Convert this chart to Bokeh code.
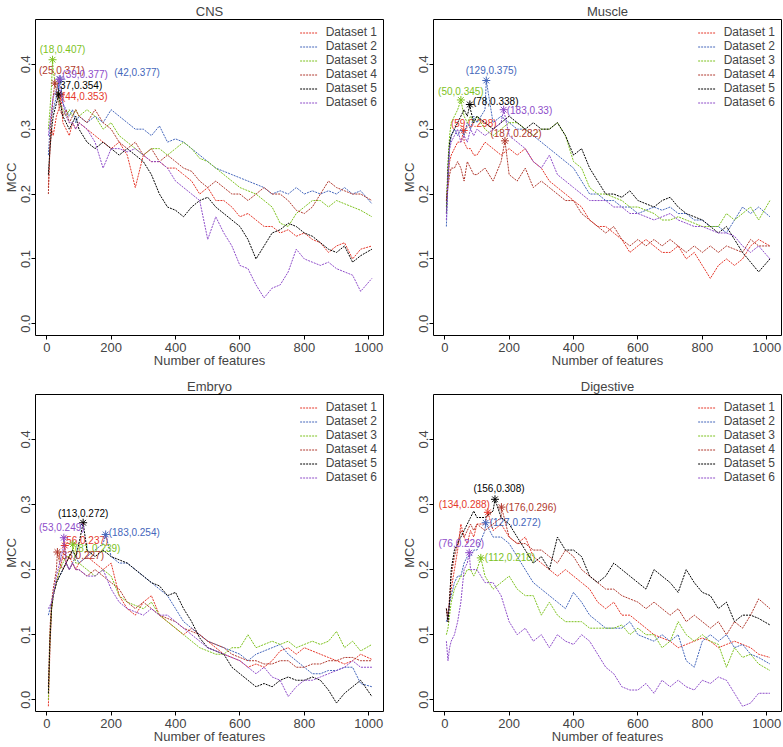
from bokeh.plotting import figure
from bokeh.layouts import row, column
from bokeh.models import Range1d, FixedTicker, NumeralTickFormatter
from bokeh.core.properties import value
from bokeh.embed import file_html
from bokeh.resources import INLINE

# ---------------- data ----------------
DATASETS = ["Dataset 1", "Dataset 2", "Dataset 3", "Dataset 4", "Dataset 5", "Dataset 6"]
PANELS = ["CNS", "Muscle", "Embryo", "Digestive"]
XTICKS = [0, 200, 400, 600, 800, 1000]
YTICKS = [0.0, 0.1, 0.2, 0.3, 0.4]

X_GRID = [5, 10, 15, 20, 30, 40, 50, 60, 70, 80, 90, 100,
          125, 150, 175, 200, 225, 250, 275, 300, 325, 350, 375, 400, 425, 450, 475, 500,
          525, 550, 575, 600, 625, 650, 675, 700, 725, 750, 775, 800, 825, 850, 875, 900,
          925, 950, 975, 1010]

# CNS
CNS_D1 = [0.21, 0.27, 0.30, 0.29, 0.32, 0.335, 0.31, 0.30, 0.29, 0.31, 0.30, 0.31,
          0.30, 0.29, 0.28, 0.27, 0.28, 0.26, 0.21, 0.26, 0.25, 0.25, 0.24, 0.24, 0.23, 0.22, 0.20, 0.21,
          0.19, 0.19, 0.18, 0.165, 0.17, 0.16, 0.15, 0.15, 0.14, 0.145, 0.135, 0.14, 0.13, 0.125, 0.11, 0.12,
          0.125, 0.10, 0.115, 0.12]
CNS_D2 = [0.26, 0.30, 0.32, 0.33, 0.35, 0.37, 0.34, 0.33, 0.32, 0.33, 0.31, 0.32,
          0.31, 0.32, 0.31, 0.33, 0.32, 0.31, 0.30, 0.30, 0.29, 0.305, 0.28, 0.285, 0.28, 0.27, 0.26, 0.25,
          0.24, 0.235, 0.23, 0.225, 0.22, 0.215, 0.21, 0.20, 0.205, 0.20, 0.21, 0.20, 0.205, 0.20, 0.205, 0.20,
          0.21, 0.20, 0.205, 0.185]
CNS_D3 = [0.30, 0.33, 0.37, 0.39, 0.36, 0.34, 0.33, 0.32, 0.33, 0.32, 0.33, 0.32,
          0.33, 0.32, 0.30, 0.31, 0.29, 0.28, 0.27, 0.26, 0.27, 0.27, 0.26, 0.27, 0.28, 0.27, 0.255, 0.25,
          0.24, 0.23, 0.22, 0.21, 0.205, 0.20, 0.19, 0.18, 0.155, 0.15, 0.17, 0.18, 0.19, 0.19, 0.18, 0.19,
          0.185, 0.18, 0.175, 0.165]
CNS_D4 = [0.20, 0.28, 0.32, 0.35, 0.36, 0.33, 0.32, 0.33, 0.31, 0.32, 0.33, 0.32,
          0.31, 0.33, 0.31, 0.30, 0.28, 0.27, 0.28, 0.26, 0.27, 0.25, 0.26, 0.25, 0.24, 0.235, 0.22, 0.21,
          0.22, 0.21, 0.20, 0.20, 0.19, 0.20, 0.21, 0.20, 0.20, 0.19, 0.175, 0.17, 0.18, 0.20, 0.22, 0.21,
          0.205, 0.20, 0.20, 0.19]
CNS_D5 = [0.23, 0.27, 0.30, 0.32, 0.34, 0.345, 0.32, 0.31, 0.30, 0.31, 0.32, 0.30,
          0.28, 0.27, 0.28, 0.27, 0.26, 0.27, 0.26, 0.25, 0.23, 0.20, 0.18, 0.175, 0.165, 0.18, 0.19, 0.195,
          0.18, 0.17, 0.16, 0.15, 0.13, 0.10, 0.12, 0.14, 0.145, 0.155, 0.15, 0.14, 0.135, 0.125, 0.115, 0.11,
          0.12, 0.095, 0.105, 0.115]
CNS_D6 = [0.29, 0.31, 0.33, 0.35, 0.36, 0.365, 0.34, 0.32, 0.31, 0.31, 0.30, 0.31,
          0.30, 0.28, 0.24, 0.27, 0.27, 0.265, 0.27, 0.26, 0.25, 0.25, 0.24, 0.22, 0.21, 0.20, 0.19, 0.13,
          0.165, 0.14, 0.12, 0.09, 0.085, 0.06, 0.04, 0.055, 0.06, 0.08, 0.115, 0.10, 0.095, 0.09, 0.095, 0.085,
          0.08, 0.075, 0.05, 0.07]
CNS_PEAK_X = [44, 42, 18, 25, 37, 39]
CNS_PEAK_Y = [0.353, 0.377, 0.407, 0.371, 0.354, 0.377]

# Muscle
MUS_D1 = [0.19, 0.22, 0.25, 0.26, 0.27, 0.28, 0.28, 0.28, 0.27, 0.27, 0.26, 0.26,
          0.28, 0.27, 0.26, 0.27, 0.26, 0.27, 0.25, 0.24, 0.22, 0.21, 0.20, 0.19, 0.18, 0.16, 0.15, 0.15,
          0.14, 0.13, 0.11, 0.12, 0.13, 0.12, 0.11, 0.11, 0.12, 0.10, 0.11, 0.09, 0.07, 0.09, 0.10, 0.09,
          0.10, 0.12, 0.13, 0.12]
MUS_D2 = [0.15, 0.22, 0.27, 0.29, 0.30, 0.29, 0.30, 0.29, 0.31, 0.30, 0.32, 0.31,
          0.33, 0.31, 0.32, 0.31, 0.30, 0.30, 0.29, 0.28, 0.27, 0.26, 0.25, 0.24, 0.22, 0.20, 0.20, 0.19,
          0.19, 0.18, 0.18, 0.17, 0.175, 0.18, 0.175, 0.18, 0.17, 0.17, 0.16, 0.16, 0.15, 0.15, 0.14, 0.16,
          0.18, 0.17, 0.18, 0.165]
MUS_D3 = [0.18, 0.25, 0.29, 0.31, 0.32, 0.33, 0.34, 0.32, 0.31, 0.32, 0.31, 0.32,
          0.30, 0.29, 0.30, 0.31, 0.31, 0.30, 0.29, 0.30, 0.30, 0.31, 0.29, 0.25, 0.24, 0.21, 0.20, 0.20,
          0.195, 0.19, 0.18, 0.18, 0.175, 0.17, 0.16, 0.16, 0.165, 0.16, 0.155, 0.15, 0.15, 0.15, 0.17, 0.16,
          0.17, 0.18, 0.16, 0.19]
MUS_D4 = [0.19, 0.21, 0.23, 0.24, 0.24, 0.25, 0.24, 0.22, 0.25, 0.24, 0.23, 0.23,
          0.24, 0.22, 0.25, 0.23, 0.22, 0.24, 0.21, 0.22, 0.21, 0.20, 0.19, 0.19, 0.17, 0.16, 0.15, 0.14,
          0.15, 0.13, 0.12, 0.13, 0.12, 0.13, 0.12, 0.13, 0.12, 0.11, 0.12, 0.11, 0.12, 0.11, 0.12, 0.115,
          0.11, 0.13, 0.12, 0.12]
MUS_D5 = [0.17, 0.24, 0.28, 0.29, 0.30, 0.31, 0.32, 0.33, 0.32, 0.33, 0.31, 0.32,
          0.31, 0.30, 0.31, 0.32, 0.31, 0.30, 0.31, 0.30, 0.30, 0.31, 0.29, 0.26, 0.27, 0.24, 0.22, 0.20,
          0.20, 0.195, 0.205, 0.19, 0.185, 0.18, 0.19, 0.195, 0.18, 0.17, 0.165, 0.16, 0.15, 0.14, 0.15, 0.13,
          0.11, 0.095, 0.08, 0.10]
MUS_D6 = [0.16, 0.23, 0.27, 0.28, 0.29, 0.30, 0.28, 0.29, 0.28, 0.30, 0.29, 0.30,
          0.29, 0.30, 0.31, 0.29, 0.28, 0.27, 0.25, 0.24, 0.26, 0.23, 0.22, 0.21, 0.20, 0.19, 0.19, 0.19,
          0.18, 0.18, 0.17, 0.17, 0.165, 0.16, 0.165, 0.17, 0.16, 0.155, 0.15, 0.15, 0.145, 0.14, 0.14, 0.135,
          0.12, 0.11, 0.12, 0.10]
MUS_PEAK_X = [59, 129, 50, 187, 78, 183]
MUS_PEAK_Y = [0.298, 0.375, 0.345, 0.282, 0.338, 0.33]

# Embryo
EMB_D1 = [-0.01, 0.08, 0.14, 0.16, 0.18, 0.20, 0.22, 0.21, 0.22, 0.21, 0.20, 0.21,
          0.22, 0.21, 0.20, 0.21, 0.16, 0.14, 0.13, 0.15, 0.16, 0.13, 0.12, 0.11, 0.10, 0.11, 0.10, 0.09,
          0.08, 0.07, 0.065, 0.06, 0.05, 0.055, 0.05, 0.06, 0.075, 0.08, 0.07, 0.08, 0.075, 0.07, 0.065, 0.06,
          0.055, 0.06, 0.07, 0.062]
EMB_D2 = [0.13, 0.14, 0.15, 0.16, 0.18, 0.19, 0.20, 0.21, 0.20, 0.21, 0.22, 0.21,
          0.22, 0.23, 0.24, 0.22, 0.21, 0.21, 0.20, 0.19, 0.18, 0.17, 0.16, 0.14, 0.12, 0.11, 0.10, 0.09,
          0.085, 0.08, 0.075, 0.07, 0.06, 0.07, 0.075, 0.08, 0.085, 0.07, 0.06, 0.05, 0.04, 0.04, 0.045, 0.045,
          0.05, 0.05, 0.025, 0.02]
EMB_D3 = [0.0, 0.10, 0.14, 0.16, 0.18, 0.20, 0.21, 0.22, 0.22, 0.23, 0.21, 0.21,
          0.20, 0.19, 0.20, 0.19, 0.16, 0.15, 0.145, 0.14, 0.15, 0.13, 0.12, 0.11, 0.10, 0.09, 0.08, 0.075,
          0.07, 0.07, 0.08, 0.08, 0.10, 0.08, 0.085, 0.09, 0.085, 0.09, 0.08, 0.085, 0.09, 0.085, 0.09, 0.105,
          0.08, 0.09, 0.075, 0.085]
EMB_D4 = [0.02, 0.11, 0.15, 0.17, 0.20, 0.21, 0.20, 0.21, 0.20, 0.21, 0.20, 0.20,
          0.19, 0.20, 0.19, 0.18, 0.17, 0.15, 0.14, 0.15, 0.14, 0.13, 0.125, 0.12, 0.11, 0.105, 0.10, 0.09,
          0.085, 0.08, 0.07, 0.065, 0.06, 0.06, 0.055, 0.055, 0.06, 0.06, 0.05, 0.05, 0.055, 0.055, 0.06, 0.06,
          0.065, 0.065, 0.06, 0.06]
EMB_D5 = [0.01, 0.09, 0.14, 0.16, 0.18, 0.19, 0.20, 0.21, 0.22, 0.23, 0.22, 0.24,
          0.23, 0.22, 0.23, 0.22, 0.215, 0.21, 0.20, 0.19, 0.18, 0.175, 0.16, 0.165, 0.14, 0.12, 0.095, 0.08,
          0.075, 0.07, 0.05, 0.04, 0.03, 0.02, 0.025, 0.02, 0.03, 0.035, 0.03, 0.03, 0.035, 0.03, 0.015, -0.005,
          0.01, 0.02, 0.03, 0.005]
EMB_D6 = [0.14, 0.145, 0.15, 0.16, 0.19, 0.21, 0.23, 0.21, 0.20, 0.21, 0.20, 0.20,
          0.19, 0.19, 0.20, 0.17, 0.15, 0.14, 0.135, 0.13, 0.14, 0.13, 0.13, 0.12, 0.11, 0.10, 0.09, 0.08,
          0.075, 0.07, 0.065, 0.06, 0.05, 0.04, 0.05, 0.035, 0.03, 0.005, 0.02, 0.03, 0.03, 0.035, 0.04, 0.045,
          0.05, 0.06, 0.05, 0.05]
EMB_PEAK_X = [56, 183, 81, 33, 113, 53]
EMB_PEAK_Y = [0.237, 0.254, 0.239, 0.227, 0.272, 0.249]

# Digestive
DIG_D1 = [0.14, 0.13, 0.15, 0.17, 0.20, 0.23, 0.27, 0.25, 0.24, 0.26, 0.25, 0.27,
          0.27, 0.26, 0.27, 0.25, 0.24, 0.25, 0.22, 0.21, 0.20, 0.19, 0.20, 0.19, 0.18, 0.17, 0.15, 0.14,
          0.15, 0.13, 0.13, 0.12, 0.11, 0.10, 0.095, 0.09, 0.08, 0.085, 0.09, 0.095, 0.09, 0.08, 0.085, 0.09,
          0.085, 0.08, 0.07, 0.065]
DIG_D2 = [0.12, 0.13, 0.15, 0.16, 0.18, 0.19, 0.19, 0.21, 0.22, 0.22, 0.23, 0.23,
          0.26, 0.25, 0.25, 0.24, 0.22, 0.20, 0.18, 0.17, 0.16, 0.15, 0.14, 0.165, 0.15, 0.13, 0.12, 0.11,
          0.11, 0.11, 0.12, 0.10, 0.095, 0.09, 0.10, 0.09, 0.10, 0.06, 0.05, 0.09, 0.10, 0.09, 0.10, 0.08,
          0.085, 0.07, 0.065, 0.055]
DIG_D3 = [0.10, 0.11, 0.13, 0.15, 0.17, 0.18, 0.19, 0.19, 0.20, 0.20, 0.19, 0.20,
          0.19, 0.17, 0.18, 0.19, 0.17, 0.16, 0.16, 0.13, 0.15, 0.13, 0.12, 0.12, 0.12, 0.11, 0.11, 0.11,
          0.11, 0.115, 0.10, 0.11, 0.10, 0.10, 0.08, 0.09, 0.12, 0.10, 0.09, 0.10, 0.09, 0.085, 0.05, 0.08,
          0.065, 0.07, 0.055, 0.045]
DIG_D4 = [0.14, 0.12, 0.16, 0.19, 0.22, 0.24, 0.26, 0.25, 0.26, 0.27, 0.26, 0.27,
          0.26, 0.27, 0.28, 0.25, 0.24, 0.24, 0.23, 0.23, 0.22, 0.21, 0.23, 0.22, 0.20, 0.19, 0.18, 0.17,
          0.17, 0.16, 0.155, 0.15, 0.14, 0.15, 0.14, 0.13, 0.14, 0.12, 0.13, 0.12, 0.11, 0.12, 0.10, 0.12,
          0.11, 0.13, 0.155, 0.14]
DIG_D5 = [0.14, 0.12, 0.15, 0.20, 0.23, 0.24, 0.25, 0.26, 0.27, 0.28, 0.29, 0.28,
          0.28, 0.29, 0.28, 0.27, 0.25, 0.23, 0.21, 0.22, 0.20, 0.25, 0.23, 0.23, 0.22, 0.19, 0.18, 0.19,
          0.21, 0.20, 0.19, 0.18, 0.17, 0.20, 0.19, 0.18, 0.165, 0.20, 0.18, 0.165, 0.16, 0.14, 0.15, 0.12,
          0.13, 0.13, 0.125, 0.115]
DIG_D6 = [0.09, 0.06, 0.08, 0.09, 0.10, 0.12, 0.15, 0.20, 0.21, 0.20, 0.20, 0.20,
          0.18, 0.18, 0.16, 0.12, 0.10, 0.11, 0.09, 0.10, 0.08, 0.10, 0.09, 0.085, 0.10, 0.09, 0.07, 0.05,
          0.04, 0.02, 0.015, 0.015, 0.025, 0.01, 0.03, 0.02, 0.03, 0.02, 0.015, 0.03, 0.025, 0.035, 0.03, 0.01,
          -0.01, -0.005, 0.01, 0.01]
DIG_PEAK_X = [134, 127, 112, 176, 156, 76]
DIG_PEAK_Y = [0.288, 0.272, 0.218, 0.296, 0.308, 0.226]

# ---------------- styles ----------------
FONT = "Liberation Sans"
COLORS = ["#E5382B", "#4466BB", "#7DC21E", "#B0392E", "#000000", "#8E4CC9"]
# (text_align, x_offset px, y_offset px) for each peak label, in dataset order
LABEL_STYLE = {
    "CNS": [("left", 1, 2), ("left", 54, -7), ("center", 10, -10),
            ("center", 7, -13), ("left", -2, -9), ("left", 3, -5)],
    "Muscle": [("center", 10, -7), ("center", 5, -10), ("center", 0, -8),
               ("center", 11, -7), ("left", 3, -3), ("left", 3, 1)],
    "Embryo": [("left", -2, -5), ("left", 3, -2), ("left", 2, 4),
               ("left", 1, 3), ("center", 0, -9), ("center", -2, -10)],
    "Digestive": [("right", 2, -8), ("left", 4, 0), ("left", 4, 0),
                  ("left", 4, 0), ("center", 4, -11), ("center", -8, -9)],
}


def with_peak(xs, ys, px, py):
    pts = dict(zip(xs, ys))
    pts[px] = py
    keys = sorted(pts)
    return keys, [pts[k] for k in keys]


def make_panel(title, series, peak_x, peak_y, width, height,
               border_left, border_right, border_top):
    p = figure(width=width, height=height, title=title,
               x_range=Range1d(-35, 1046), y_range=Range1d(-0.018, 0.469),
               output_backend="svg", toolbar_location=None,
               min_border_left=border_left, min_border_right=border_right,
               min_border_top=border_top, min_border_bottom=0)
    p.title.align = "center"
    p.title.text_font = FONT
    p.title.text_font_style = "normal"
    p.title.text_font_size = "13px"
    p.title.standoff = 2
    p.xgrid.visible = False
    p.ygrid.visible = False
    p.outline_line_color = "black"
    p.outline_line_alpha = 1
    p.outline_line_width = 1
    p.background_fill_color = "white"

    p.xaxis.ticker = FixedTicker(ticks=XTICKS)
    p.yaxis.ticker = FixedTicker(ticks=YTICKS)
    p.yaxis.formatter = NumeralTickFormatter(format="0.0")
    p.xaxis.axis_label = "Number of features"
    p.yaxis.axis_label = "MCC"
    p.yaxis.major_label_orientation = "vertical"
    for ax in (p.xaxis[0], p.yaxis[0]):
        ax.axis_line_color = None
        ax.major_tick_line_color = "black"
        ax.major_tick_out = 4
        ax.major_tick_in = 0
        ax.minor_tick_line_color = None
        ax.major_label_text_font = FONT
        ax.major_label_text_font_size = "13px"
        ax.axis_label_text_font = FONT
        ax.axis_label_text_font_size = "13px"
        ax.axis_label_text_font_style = "normal"
    p.xaxis.major_label_standoff = 3
    p.xaxis.axis_label_standoff = -2
    p.yaxis.major_label_standoff = 1
    p.yaxis.axis_label_standoff = 0

    styles = LABEL_STYLE[title]
    for i, ys in enumerate(series):
        color = COLORS[i]
        px, py = peak_x[i], peak_y[i]
        xs2, ys2 = with_peak(X_GRID, ys, px, py)
        p.line(xs2, ys2, line_color=color, line_width=1, line_dash="2 1",
               legend_label=DATASETS[i])
        p.scatter([px], [py], marker="asterisk", size=8, line_color=color, line_width=1)
        align, dx, dy = styles[i]
        p.text([px], [py], text=[f"({px},{py:g})"], text_color=color,
               text_font=value(FONT), text_font_size="10px",
               text_align=align, text_baseline="middle", x_offset=dx, y_offset=dy)

    lg = p.legend[0]
    lg.location = "top_right"
    lg.border_line_color = None
    lg.background_fill_alpha = 0
    lg.label_text_font = FONT
    lg.label_text_font_size = "12px"
    lg.spacing = 0
    lg.padding = 2
    lg.margin = 6
    lg.label_height = 11
    lg.glyph_height = 11
    lg.glyph_width = 18
    lg.label_standoff = 8
    return p


p1 = make_panel("CNS", [CNS_D1, CNS_D2, CNS_D3, CNS_D4, CNS_D5, CNS_D6],
                CNS_PEAK_X, CNS_PEAK_Y, 390, 370, 35, 7, 0)
p2 = make_panel("Muscle", [MUS_D1, MUS_D2, MUS_D3, MUS_D4, MUS_D5, MUS_D6],
                MUS_PEAK_X, MUS_PEAK_Y, 393, 370, 43, 2, 0)
p3 = make_panel("Embryo", [EMB_D1, EMB_D2, EMB_D3, EMB_D4, EMB_D5, EMB_D6],
                EMB_PEAK_X, EMB_PEAK_Y, 390, 376, 35, 7, 24)
p4 = make_panel("Digestive", [DIG_D1, DIG_D2, DIG_D3, DIG_D4, DIG_D5, DIG_D6],
                DIG_PEAK_X, DIG_PEAK_Y, 393, 376, 43, 2, 24)

layout = column(row(p1, p2), row(p3, p4))
open("out.html", "w").write(file_html(layout, INLINE))
